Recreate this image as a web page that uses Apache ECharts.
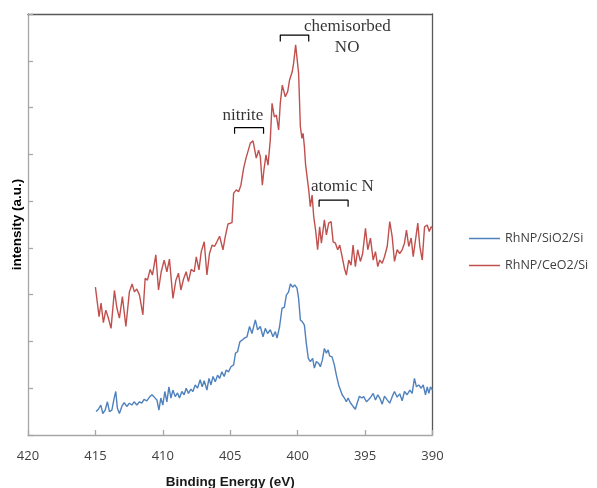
<!DOCTYPE html>
<html>
<head>
<meta charset="utf-8">
<script src="https://cdn.jsdelivr.net/npm/echarts@6/dist/echarts.min.js"></script>
<style>
html,body{margin:0;padding:0;background:#fff;}
#chart{width:597px;height:488px;}
</style>
</head>
<body>
<div id="chart"></div>
<script>
// Binding energy (eV) and intensity (a.u.) for RhNP/CeO2/Si (red)
const ceriaEnergy = [415.00,414.73,414.58,414.41,414.23,414.04,413.84,413.59,413.41,413.22,
413.00,412.74,412.48,412.28,412.11,411.93,411.73,411.48,411.31,411.14,
410.94,410.77,410.52,410.32,410.12,409.90,409.70,409.51,409.25,409.03,
408.84,408.66,408.47,408.27,408.10,407.90,407.67,407.52,407.32,407.15,
406.93,406.73,406.54,406.34,406.17,405.99,405.79,405.54,405.37,405.17,
404.87,404.75,404.55,404.38,404.21,404.01,403.83,403.69,403.51,403.31,
403.20,403.07,402.90,402.77,402.62,402.50,402.35,402.20,402.03,401.90,
401.73,401.58,401.41,401.29,401.14,400.92,400.74,400.60,400.40,400.30,
400.15,400.05,399.93,399.80,399.68,399.60,399.50,399.41,399.30,399.18,
399.06,398.93,398.81,398.67,398.52,398.37,398.24,398.02,397.87,397.70,
397.52,397.37,397.20,397.03,396.88,396.70,396.53,396.39,396.21,396.04,
395.89,395.72,395.55,395.35,395.18,394.97,394.80,394.60,394.40,394.23,
394.06,393.91,393.73,393.56,393.36,393.17,392.99,392.82,392.62,392.43,
392.25,392.08,391.93,391.76,391.58,391.43,391.26,391.09,390.94,390.76,
390.59,390.39,390.24,390.10,390.00];
const ceriaIntensity = [3.16,2.53,2.82,2.40,2.67,2.50,2.28,3.09,2.72,2.50,
2.96,2.32,3.06,3.23,3.06,3.12,2.99,2.57,3.35,3.31,
3.54,3.42,3.85,3.10,3.49,3.74,3.49,3.76,2.92,3.31,
3.46,3.10,3.33,3.49,3.28,3.54,3.49,3.81,3.53,3.92,
4.13,3.42,3.88,4.06,4.03,4.13,4.25,3.96,4.24,4.51,
4.54,5.17,5.24,5.20,5.34,5.70,5.92,5.95,6.24,6.29,
6.27,5.92,6.09,5.95,5.34,5.67,5.99,5.77,6.31,7.09,
6.80,6.84,6.52,7.09,7.48,7.23,7.34,7.59,7.77,7.95,
8.34,8.30,7.73,6.59,6.34,6.45,6.16,5.77,5.74,5.24,
4.88,5.13,4.67,4.38,3.96,4.45,4.10,4.60,4.28,4.53,
4.56,4.13,4.10,3.96,4.06,3.81,3.56,3.42,3.74,3.63,
4.06,3.60,3.96,3.71,3.88,4.42,3.96,4.21,3.74,3.92,
3.60,3.74,3.67,3.81,4.03,4.56,4.24,3.71,3.96,3.88,
3.96,4.10,4.38,4.03,4.21,3.81,4.17,4.53,4.03,3.74,
4.45,4.49,4.35,4.45,4.42];

// Binding energy (eV) and intensity (a.u.) for RhNP/SiO2/Si (blue)
const silicaEnergy = [414.95,414.78,414.60,414.45,414.28,414.11,413.96,413.78,413.61,413.49,
413.37,413.22,413.04,412.87,412.67,412.48,412.30,412.13,411.93,411.73,
411.56,411.39,411.19,410.99,410.81,410.64,410.44,410.29,410.15,410.00,
409.85,409.70,409.55,409.40,409.25,409.08,408.91,408.76,408.59,408.42,
408.27,408.10,407.92,407.77,407.60,407.43,407.23,407.08,406.93,406.73,
406.58,406.43,406.28,406.11,405.94,405.79,405.62,405.45,405.30,405.13,
404.95,404.75,404.61,404.46,404.29,404.11,403.96,403.76,403.57,403.39,
403.14,402.97,402.77,402.57,402.40,402.23,402.03,401.83,401.66,401.53,
401.34,401.16,400.99,400.84,400.67,400.54,400.37,400.22,400.05,399.93,
399.80,399.65,399.50,399.36,399.21,399.06,398.89,398.76,398.61,398.44,
398.32,398.17,398.02,397.87,397.74,397.63,397.45,397.28,397.13,396.96,
396.83,396.70,396.53,396.39,396.26,396.09,395.89,395.72,395.59,395.42,
395.25,395.10,394.90,394.73,394.55,394.40,394.23,394.06,393.91,393.73,
393.56,393.36,393.17,392.99,392.82,392.62,392.43,392.25,392.08,391.88,
391.68,391.51,391.34,391.19,391.02,390.84,390.69,390.52,390.39,390.27,
390.15,390.00];
const silicaIntensity = [0.50,0.55,0.64,0.46,0.53,0.71,0.50,0.53,0.79,0.93,
0.57,0.46,0.61,0.69,0.61,0.68,0.64,0.71,0.64,0.71,
0.68,0.76,0.73,0.81,0.86,0.81,0.75,0.53,0.79,0.64,
0.93,0.71,1.03,0.79,0.96,0.82,0.90,0.79,0.93,0.86,
1.00,0.89,0.98,0.93,1.07,1.00,1.18,1.03,1.16,0.96,
1.21,1.07,1.25,1.14,1.28,1.21,1.35,1.25,1.39,1.35,
1.46,1.50,1.75,1.78,1.99,2.03,2.07,2.10,2.32,2.17,
2.46,2.25,2.32,2.10,2.28,2.17,2.25,2.10,2.21,2.07,
2.32,2.71,2.73,2.99,3.06,3.23,3.16,3.21,3.14,2.92,
2.46,2.42,2.35,1.96,1.64,1.57,1.64,1.43,1.57,1.53,
1.46,1.60,1.85,1.75,1.82,1.69,1.67,1.50,1.28,1.07,
1.07,0.86,0.79,0.71,0.79,0.69,0.61,0.55,0.68,0.83,
0.79,0.82,0.71,0.76,0.82,0.89,0.75,0.86,0.79,0.66,
0.83,0.75,0.68,0.82,0.93,0.81,0.88,0.73,0.93,0.86,
0.96,0.89,1.21,1.03,1.07,1.00,1.07,0.86,1.03,0.89,
1.03,0.96];

const seriesNames = ['RhNP/SiO2/Si', 'RhNP/CeO2/Si'];

// Annotation texts (centre positions in data units)
const annotLabels = ['chemisorbed', 'NO', 'nitrite', 'atomic N'];
const annotEnergy = [396.31, 396.33, 404.06, 396.68];
const annotIntensity = [8.73, 8.29, 6.83, 5.31];

// Brackets (energy span and intensity of top / leg ends)
const bracketLeft = [401.29, 404.68, 398.41];
const bracketRight = [399.18, 402.53, 396.26];
const bracketTop = [8.55, 6.57, 5.02];
const bracketBottom = [8.41, 6.44, 4.88];

const zip = (a, b) => a.map((v, i) => [v, b[i]]);

const chart = echarts.init(document.getElementById('chart'), null, {renderer: 'canvas'});

const bracketSeries = bracketLeft.map((l, i) => ({
  type: 'line',
  silent: true,
  symbol: 'none',
  z: 5,
  lineStyle: {color: '#000', width: 1.2},
  data: [[l, bracketBottom[i]], [l, bracketTop[i]], [bracketRight[i], bracketTop[i]], [bracketRight[i], bracketBottom[i]]]
}));

const axisGray = '#a6a6a6';
const frameDark = '#595959';

chart.setOption({
  animation: false,
  backgroundColor: '#fff',
  grid: {left: 28, right: 164.5, top: 14, bottom: 53, containLabel: false, outerBoundsMode: 'none'},
  legend: {
    data: seriesNames,
    orient: 'vertical',
    left: 464, top: 227,
    itemWidth: 31, itemHeight: 14, itemGap: 14,
    icon: 'path://M0,0H62V3H0Z',
    textStyle: {fontSize: 12.5, color: '#404040', fontFamily: 'Open Sans'}
  },
  xAxis: [{
    type: 'value', inverse: true, min: 390, max: 420, interval: 5,
    axisLine: {onZero: false, lineStyle: {color: axisGray, width: 1.3}},
    axisTick: {inside: true, length: 5, lineStyle: {color: axisGray, width: 1.3}},
    axisLabel: {margin: 15, color: '#404040', fontSize: 13, fontFamily: 'Open Sans'},
    splitLine: {show: false},
    name: 'Binding Energy (eV)', nameLocation: 'middle', nameGap: 40,
    nameTextStyle: {fontWeight: 'bold', fontSize: 13.5, color: '#1a1a1a', fontFamily: 'Liberation Sans'}
  }, {
    type: 'value', position: 'top', inverse: true, min: 390, max: 420,
    axisLine: {show: true, onZero: false, lineStyle: {color: frameDark, width: 1.3}},
    axisTick: {show: false}, axisLabel: {show: false}, splitLine: {show: false}
  }],
  yAxis: [{
    type: 'value', min: 0, max: 9, interval: 1,
    axisLine: {show: true, onZero: false, lineStyle: {color: axisGray, width: 1.3}},
    axisTick: {show: true, inside: true, length: 5, lineStyle: {color: axisGray, width: 1.3}},
    axisLabel: {show: false}, splitLine: {show: false},
    name: 'intensity (a.u.)', nameLocation: 'middle', nameGap: 4,
    nameTextStyle: {fontWeight: 'bold', fontSize: 13.5, color: '#000', fontFamily: 'Liberation Sans'}
  }, {
    type: 'value', position: 'right', min: 0, max: 9,
    axisLine: {show: true, onZero: false, lineStyle: {color: frameDark, width: 1.3}},
    axisTick: {show: false}, axisLabel: {show: false}, splitLine: {show: false}
  }],
  series: [{
    name: seriesNames[0], type: 'line', symbol: 'none',
    lineStyle: {color: '#4f81bd', width: 1.4}, itemStyle: {color: '#4f81bd'},
    data: zip(silicaEnergy, silicaIntensity)
  }, {
    name: seriesNames[1], type: 'line', symbol: 'none',
    lineStyle: {color: '#c0504d', width: 1.4}, itemStyle: {color: '#c0504d'},
    data: zip(ceriaEnergy, ceriaIntensity)
  }, ...bracketSeries, {
    type: 'scatter', silent: true, symbolSize: 1, z: 6,
    itemStyle: {color: 'rgba(0,0,0,0)'},
    label: {
      show: true, position: 'inside', formatter: p => p.data[2],
      fontFamily: 'Liberation Serif', fontSize: 17, color: '#000'
    },
    data: annotLabels.map((t, i) => [annotEnergy[i], annotIntensity[i], t])
  }]
});
</script>
</body>
</html>
